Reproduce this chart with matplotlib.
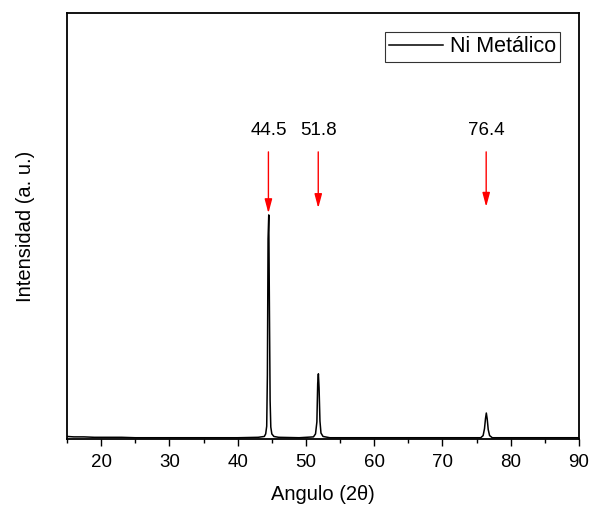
import matplotlib
matplotlib.use("Agg")
import matplotlib.pyplot as plt

plt.rcParams["font.family"] = ["Liberation Sans", "DejaVu Sans"]

# XRD pattern of metallic Ni, read point by point
two_theta = [15.0, 16.0, 17.5, 19.0, 21.0, 23.0, 25.0, 28.0, 32.0, 36.0, 40.0, 43.0,
             43.9, 44.1, 44.25, 44.35, 44.45, 44.55, 44.65, 44.75, 44.85, 45.0, 45.3, 46.0,
             49.0, 51.1, 51.4, 51.6, 51.72, 51.82, 51.92, 52.05, 52.2, 52.5, 53.5,
             58.0, 64.0, 70.0, 75.6, 75.95, 76.15, 76.3, 76.42, 76.55, 76.7, 76.9, 77.3,
             80.0, 84.0, 90.0]
intensity = [6, 5, 5, 4, 4, 4, 3, 3, 3, 3, 3, 4,
             6, 12, 30, 150, 470, 526, 300, 90, 28, 12, 6, 4,
             3, 5, 12, 40, 130, 153, 120, 42, 14, 6, 3,
             3, 3, 3, 3, 8, 24, 48, 61, 47, 22, 8, 3,
             3, 3, 3]

peak_pos = [44.5, 51.8, 76.4]
peak_labels = ["44.5", "51.8", "76.4"]
arrow_tip = [530, 542, 545]

fig = plt.figure(figsize=(5.9, 5.08), dpi=100)
ax = fig.add_axes([0.1136, 0.1358, 0.8678, 0.8386])

ax.plot(two_theta, intensity, color="black", linewidth=1.1, label="Ni Metálico")

for x, lab, tip in zip(peak_pos, peak_labels, arrow_tip):
    ax.annotate("", xy=(x, tip), xytext=(x, 674),
                arrowprops=dict(arrowstyle="-|>,head_length=0.6,head_width=0.16",
                                color="red", lw=1.0, mutation_scale=14,
                                shrinkA=0, shrinkB=0))
    ax.text(x, 725, lab, ha="center", va="center", fontsize=13.5)

ax.set_xlim(15, 90)
ax.set_ylim(0, 1000)
ax.set_xticks(range(20, 91, 10))
ax.set_xticks(range(15, 91, 5), minor=True)
ax.set_yticks([])
ax.tick_params(axis="x", which="major", direction="out", length=5, width=1,
               labelsize=13.5, pad=6)
ax.tick_params(axis="x", which="minor", direction="out", length=3, width=1)
for sp in ax.spines.values():
    sp.set_linewidth(1.3)

ax.set_xlabel("Angulo (2θ)", fontsize=14.5, labelpad=10)
ax.set_ylabel("Intensidad (a. u.)", fontsize=14.5, labelpad=23)

leg = ax.legend(loc="upper right", bbox_to_anchor=(0.963, 0.955), fontsize=15.5,
                frameon=True, fancybox=False, handlelength=2.5, borderpad=0.2,
                handletextpad=0.3, borderaxespad=0)
leg.get_frame().set_edgecolor("black")
leg.get_frame().set_linewidth(0.8)

fig.savefig("out.png", dpi=100)
